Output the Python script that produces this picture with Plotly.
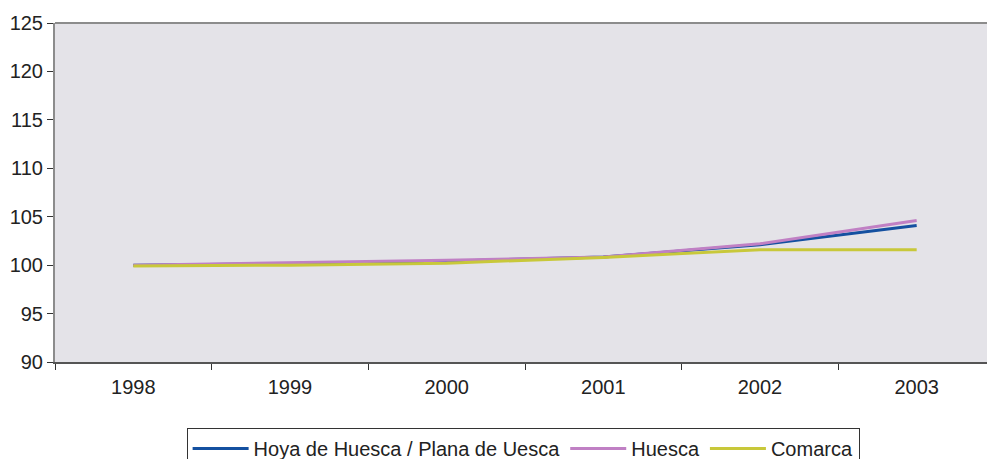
import plotly.graph_objects as go

years = ["1998", "1999", "2000", "2001", "2002", "2003"]
hoya = [100.0, 100.15, 100.4, 100.85, 102.1, 104.1]
huesca = [100.0, 100.25, 100.5, 100.85, 102.2, 104.6]
comarca = [99.9, 100.0, 100.2, 100.8, 101.6, 101.6]

series_names = ["Hoya de Huesca / Plana de Uesca", "Huesca", "Comarca"]
colors = ["#1450a0", "#c080c4", "#c8c83a"]

fig = go.Figure()
for name, vals, col in zip(series_names, [hoya, huesca, comarca], colors):
    fig.add_trace(go.Scatter(x=years, y=vals, mode="lines", name=name,
                             line=dict(color=col, width=3)))

fig.update_layout(
    width=987, height=451,
    margin=dict(l=47, r=0, t=15, b=97, autoexpand=False),
    paper_bgcolor="white",
    plot_bgcolor="#e4e3e8",
    font=dict(family="Liberation Sans", size=20, color="#222"),
    showlegend=True,
    legend=dict(orientation="h", x=0.498, xanchor="center", y=-0.195, yanchor="top",
                bordercolor="#333", borderwidth=1, bgcolor="white",
                font=dict(family="Liberation Sans", size=20), itemwidth=56, tracegroupgap=0),
    shapes=[dict(type="line", xref="paper", yref="paper", x0=0, x1=1, y0=1, y1=1,
                 line=dict(color="#8c8c8c", width=2))],
)
fig.update_xaxes(type="category", range=[-0.5, 5.5], showgrid=False, zeroline=False,
                 showline=True, linecolor="#555555", linewidth=2,
                 ticks="outside", tickson="boundaries", ticklen=6, tickcolor="#333",
                 tickfont=dict(size=20), automargin=False, ticklabelstandoff=6)
fig.update_yaxes(range=[90, 125], dtick=5, tick0=90, showgrid=False, zeroline=False,
                 showline=True, linecolor="#8c8c8c", linewidth=2,
                 ticks="outside", ticklen=6, tickcolor="#333",
                 tickfont=dict(size=20), automargin=False)

fig.write_html("out.html")
